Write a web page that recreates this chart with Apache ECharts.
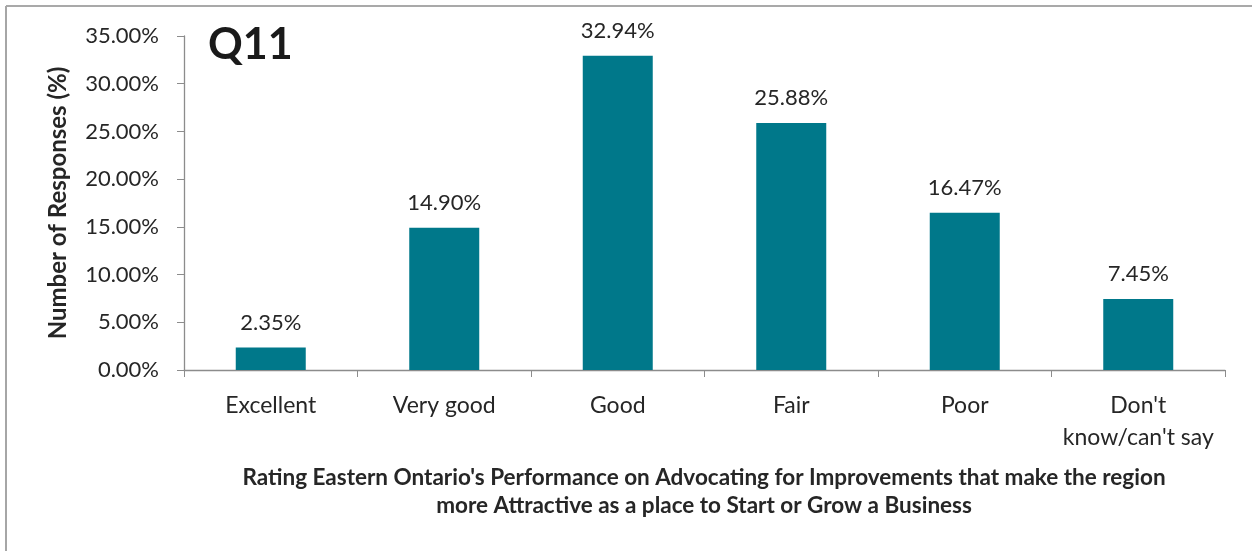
<!DOCTYPE html>
<html>
<head>
<meta charset="utf-8">
<script src="https://cdn.jsdelivr.net/npm/echarts@6/dist/echarts.min.js"></script>
<style>
  html, body { margin: 0; padding: 0; background: #fff; }
  #chart { width: 1252px; height: 551px; }
</style>
</head>
<body>
<div id="chart"></div>
<script>
// Survey ratings, share of responses (%)
const categories = ['Excellent', 'Very good', 'Good', 'Fair', 'Poor', "Don't\nknow/can't say"];
const responseShare = [2.35, 14.90, 32.94, 25.88, 16.47, 7.45];
const yTicks = { min: 0, max: 35, interval: 5 };

const FONT = 'Lato, "Open Sans", sans-serif';
const chart = echarts.init(document.getElementById('chart'), null, { renderer: 'canvas' });

chart.setOption({
  backgroundColor: '#ffffff',
  animation: false,
  grid: { left: 184, right: 27, top: 36, bottom: 181 },
  graphic: [
    // frame lines along the top and left edges
    { type: 'line', shape: { x1: 6, y1: 6, x2: 1252, y2: 6 }, style: { stroke: '#8c8c8c', lineWidth: 1.5 } },
    { type: 'line', shape: { x1: 6, y1: 6, x2: 6, y2: 551 }, style: { stroke: '#a6a6a6', lineWidth: 2 } },
    { type: 'text', x: 208, y: 24, style: { text: 'Q11', font: 'bold 43px ' + FONT, fill: '#1a1a1a' } },
    {
      type: 'text', x: 704, y: 464,
      style: {
        text: "Rating Eastern Ontario's Performance on Advocating for Improvements that make the region\nmore Attractive as a place to Start or Grow a Business",
        font: 'bold 22.5px ' + FONT, fill: '#262626', align: 'center', lineHeight: 28
      }
    }
  ],
  xAxis: {
    type: 'category',
    data: categories,
    axisLine: { lineStyle: { color: '#8c8c8c', width: 1.3 } },
    axisTick: { show: true, alignWithLabel: false, length: 7, lineStyle: { color: '#8c8c8c' } },
    axisLabel: { interval: 0, color: '#262626', fontFamily: FONT, fontSize: 23, margin: 20, lineHeight: 32 }
  },
  yAxis: {
    type: 'value',
    min: yTicks.min, max: yTicks.max, interval: yTicks.interval,
    name: 'Number of Responses (%)',
    nameLocation: 'middle',
    nameGap: 114,
    nameTextStyle: { color: '#262626', fontFamily: FONT, fontSize: 24, fontWeight: 'bold' },
    axisLine: { show: true, lineStyle: { color: '#8c8c8c', width: 1.3 } },
    axisTick: { show: true, length: 7, lineStyle: { color: '#8c8c8c' } },
    splitLine: { show: false },
    axisLabel: {
      color: '#262626', fontFamily: FONT, fontSize: 22, margin: 25,
      formatter: v => v.toFixed(2) + '%'
    }
  },
  series: [{
    type: 'bar',
    data: responseShare,
    barWidth: 70,
    itemStyle: { color: '#00788a' },
    label: {
      show: true, position: 'top', distance: 14,
      color: '#262626', fontFamily: FONT, fontSize: 22,
      formatter: p => p.value.toFixed(2) + '%'
    }
  }]
});
</script>
</body>
</html>
